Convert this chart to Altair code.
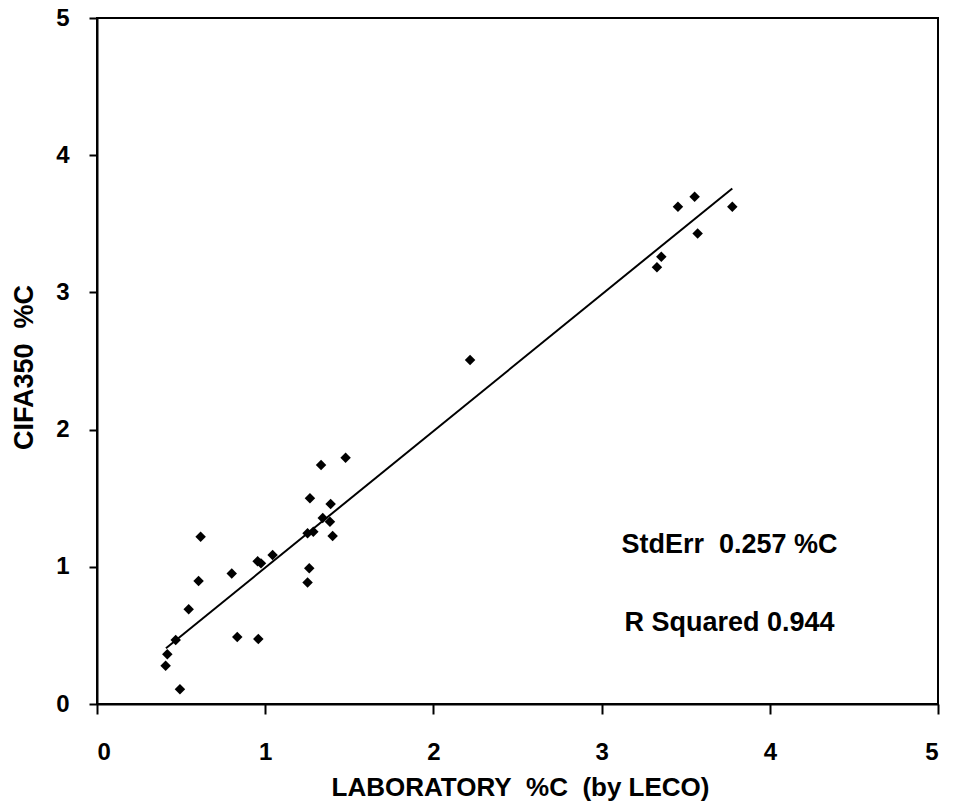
import altair as alt
import pandas as pd

# Measured points: LABORATORY %C (by LECO) vs CIFA350 %C
lab_c = [1.478, 1.332, 1.266, 1.389, 1.342, 1.385, 1.286, 1.252, 1.401, 0.616,
         1.044, 0.955, 0.975, 0.801, 1.262, 1.252, 0.604, 0.545, 0.468, 0.834,
         0.959, 0.418, 0.408, 0.493, 2.218, 3.454, 3.553, 3.777, 3.571, 3.355,
         3.329]
cifa_c = [1.795, 1.742, 1.499, 1.458, 1.356, 1.329, 1.256, 1.244, 1.224, 1.219,
          1.086, 1.040, 1.025, 0.952, 0.989, 0.886, 0.896, 0.690, 0.466, 0.488,
          0.474, 0.362, 0.279, 0.107, 2.507, 3.625, 3.698, 3.625, 3.430, 3.260,
          3.183]

# Fitted line end points as drawn
fit_x = [0.41, 3.777]
fit_y = [0.406, 3.758]

NB = "\u00a0"
# Annotation texts
ann_text = ["StdErr" + NB + NB + "0.257 %C", "R Squared 0.944"]
ann_x = [3.76, 3.76]
ann_y = [1.10, 0.532]

ticks = [0, 1, 2, 3, 4, 5]

FONT = "Liberation Sans"

pts = pd.DataFrame({"lab": lab_c, "cifa": cifa_c})
fit = pd.DataFrame({"lab": fit_x, "cifa": fit_y})
ann = pd.DataFrame({"t": ann_text, "lab": ann_x, "cifa": ann_y})

xscale = alt.Scale(domain=[0, 5], nice=False, zero=False)
yscale = alt.Scale(domain=[0, 5], nice=False, zero=False)

xaxis = alt.Axis(
    values=ticks, format="d", grid=False, domainColor="black", domainWidth=2,
    tickColor="black", tickWidth=2, tickSize=10,
    labelFont=FONT, labelFontSize=24, labelFontWeight="bold", labelColor="black",
    labelPadding=26, labelBaseline="top",
    title="LABORATORY" + NB + NB + "%C" + NB + NB + "(by LECO)",
    titleFont=FONT, titleFontSize=26,
    titleFontWeight="bold", titleColor="black",
    titleX=423, titleY=91, titleAlign="center", titleBaseline="alphabetic",
)
yaxis = alt.Axis(
    values=ticks, format="d", grid=False, domainColor="black", domainWidth=2,
    tickColor="black", tickWidth=2, tickSize=8,
    labelFont=FONT, labelFontSize=24, labelFontWeight="bold", labelColor="black",
    labelPadding=20,
    title="CIFA350" + NB + NB + "%C", titleFont=FONT, titleFontSize=27,
    titleFontWeight="bold", titleColor="black",
    titleAngle=270, titleX=-73, titleY=349, titleAlign="center",
    titleBaseline="middle",
)

points = alt.Chart(pts).mark_point(
    shape="diamond", filled=True, color="black", size=110, opacity=1
).encode(
    x=alt.X("lab:Q", scale=xscale, axis=xaxis),
    y=alt.Y("cifa:Q", scale=yscale, axis=yaxis),
)

line = alt.Chart(fit).mark_line(color="black", strokeWidth=2).encode(
    x=alt.X("lab:Q", scale=xscale),
    y=alt.Y("cifa:Q", scale=yscale),
)

texts = alt.Chart(ann).mark_text(
    font=FONT, fontSize=27, fontWeight="bold", color="black",
    align="center", baseline="alphabetic"
).encode(
    x=alt.X("lab:Q", scale=xscale),
    y=alt.Y("cifa:Q", scale=yscale),
    text="t:N",
)

chart = alt.layer(line, points, texts).properties(
    width=841, height=686,
    autosize=alt.AutoSizeParams(type="none"),
    padding={"left": 89, "top": 10, "right": 7, "bottom": 97},
    background="white",
).configure_view(stroke="black", strokeWidth=2)

chart.save("out.html", embed_options={"renderer": "svg", "actions": False})
